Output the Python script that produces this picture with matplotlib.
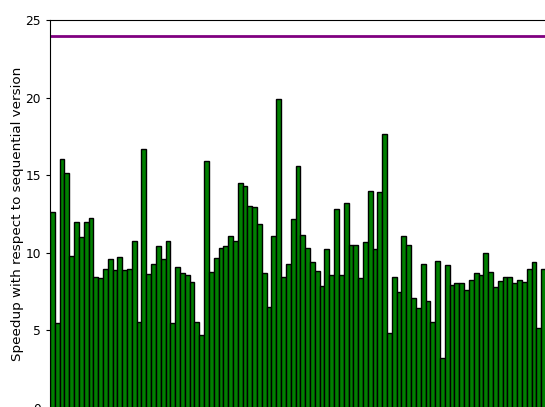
import numpy as np
import matplotlib
matplotlib.use("Agg")
import matplotlib.pyplot as plt

# speedup per test case
speedup = [
    12.6, 5.47, 16.03, 15.11, 9.77, 11.96, 11.03, 11.98, 12.26, 8.46,
    8.35, 8.93, 9.59, 8.89, 9.74, 8.87, 8.93, 10.73, 5.54, 16.72,
    8.63, 9.25, 10.41, 9.57, 10.73, 5.45, 9.06, 8.67, 8.60, 8.11,
    5.54, 4.70, 15.90, 8.78, 9.64, 10.32, 10.41, 11.08, 10.77, 14.51,
    14.32, 13.00, 12.96, 11.85, 8.69, 6.52, 11.10, 19.88, 8.41, 9.29,
    12.15, 15.60, 11.16, 10.28, 9.38, 8.80, 7.88, 10.24, 8.60, 12.79,
    8.60, 13.24, 10.52, 10.52, 8.35, 10.67, 13.95, 10.24, 13.89, 17.64,
    4.81, 8.46, 7.49, 11.10, 10.52, 7.08, 6.42, 9.25, 6.91, 5.52,
    9.49, 3.24, 9.21, 7.94, 8.03, 8.03, 7.62, 8.26, 8.67, 8.58,
    9.96, 8.74, 7.77, 8.16, 8.44, 8.44, 8.07, 8.22, 8.11, 8.93,
    9.40, 5.15, 8.93,
]
ideal_speedup = 24

W, H = 545, 407
fig = plt.figure(figsize=(W / 100, H / 100), dpi=100)
# axes runs past the right and bottom edges of the picture
left, top, bottom_px, width_px = 50, 20, 408, 510
ax = fig.add_axes([left / W, (H - bottom_px) / H, width_px / W, (bottom_px - top) / H])

x = np.arange(len(speedup))
ax.bar(x, speedup, width=1.0, align="edge", color="green", edgecolor="black", linewidth=1.0)
ax.axhline(ideal_speedup, color="purple", lw=2)

ax.set_xlim(0, width_px / 4.815)
ax.set_ylim(0, 25)
ax.set_yticks([0, 5, 10, 15, 20, 25])
ax.tick_params(axis="y", direction="out", length=3, labelsize=8.8, right=False)
ax.tick_params(axis="x", bottom=False, labelbottom=False)
ax.set_ylabel("Speedup with respect to sequential version", fontsize=9.7, labelpad=1)

fig.savefig("out.png", dpi=100)
